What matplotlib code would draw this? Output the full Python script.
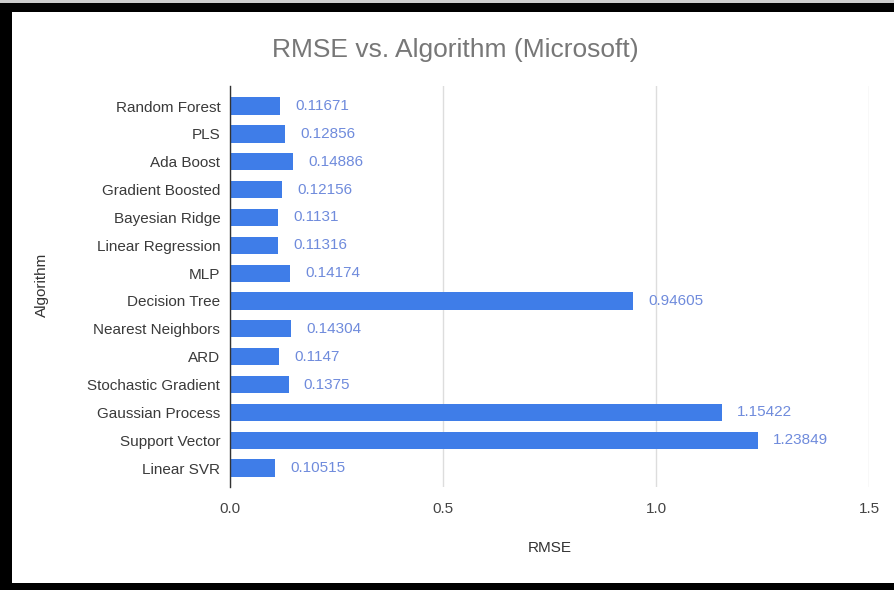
import matplotlib
matplotlib.use("Agg")
import matplotlib.pyplot as plt
from matplotlib.patches import Rectangle

algorithms = ["Random Forest", "PLS", "Ada Boost", "Gradient Boosted", "Bayesian Ridge",
              "Linear Regression", "MLP", "Decision Tree", "Nearest Neighbors", "ARD",
              "Stochastic Gradient", "Gaussian Process", "Support Vector", "Linear SVR"]
rmse = [0.11671, 0.12856, 0.14886, 0.12156, 0.1131, 0.11316, 0.14174, 0.94605,
        0.14304, 0.1147, 0.1375, 1.15422, 1.23849, 0.10515]
rmse_labels = ["0.11671", "0.12856", "0.14886", "0.12156", "0.1131", "0.11316", "0.14174",
               "0.94605", "0.14304", "0.1147", "0.1375", "1.15422", "1.23849", "0.10515"]
xticks = [0.0, 0.5, 1.0, 1.5]
xtick_labels = ["0.0", "0.5", "1.0", "1.5"]

plt.rcParams['font.family'] = ['Liberation Sans', 'DejaVu Sans']

W, H = 895, 590
fig = plt.figure(figsize=(W / 100, H / 100), dpi=100)
fig.patch.set_facecolor("white")

# black frame (open on the right)
fig.patches.append(Rectangle((0, 1 - 12 / H), 1, 9 / H, transform=fig.transFigure,
                             facecolor="black", edgecolor="none", zorder=0))
fig.patches.append(Rectangle((0, 1 - 3 / H), 1, 3 / H, transform=fig.transFigure,
                             facecolor="#cccccc", edgecolor="none", zorder=0))
fig.patches.append(Rectangle((0, 0), 12 / W, 1 - 3 / H, transform=fig.transFigure,
                             facecolor="black", edgecolor="none", zorder=0))
fig.patches.append(Rectangle((0, 0), 1, 7 / H, transform=fig.transFigure,
                             facecolor="black", edgecolor="none", zorder=0))

ax = fig.add_axes([230 / W, 1 - 487 / H, (869 - 230) / W, (487 - 86) / H])
ypos = list(range(len(algorithms)))
ax.barh(ypos, rmse, height=0.62, color="#3f7de8", zorder=3)
ax.set_ylim(13.68, -0.72)
ax.set_xlim(0, 1.5)
ax.set_yticks(ypos)
ax.set_yticklabels(algorithms, fontsize=11, color="#3a3a3a")
ax.set_xticks(xticks)
ax.set_xticklabels(xtick_labels, fontsize=11, color="#444444")
ax.tick_params(axis="both", length=0)
ax.tick_params(axis="x", pad=11)
ax.tick_params(axis="y", pad=7)
ax.grid(axis="x", color="#dddddd", linewidth=1, zorder=0)
for s in ["top", "right", "bottom"]:
    ax.spines[s].set_visible(False)
ax.spines["left"].set_color("#333333")
ax.spines["left"].set_linewidth(1)
ax.spines["left"].set_zorder(4)

for y, v, lab in zip(ypos, rmse, rmse_labels):
    ax.annotate(lab, xy=(v, y), xytext=(11, 0), textcoords="offset points",
                va="center", ha="left", fontsize=11, color="#6f8bdc")

fig.text(455 / W, 1 - 50 / H, "RMSE vs. Algorithm (Microsoft)", ha="center", va="center",
         fontsize=19, color="#777777")
fig.text(550 / W, 1 - 548 / H, "RMSE", ha="center", va="center", fontsize=11, color="#333333")
fig.text(42 / W, 1 - 285 / H, "Algorithm", ha="center", va="center", rotation=90,
         fontsize=11, color="#333333")

fig.savefig("out.png", dpi=100)
